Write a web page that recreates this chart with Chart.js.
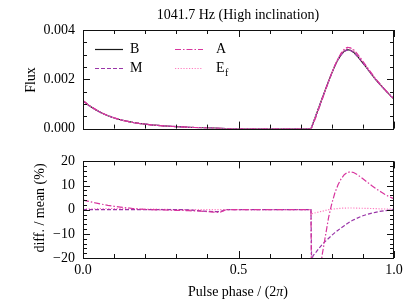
<!DOCTYPE html>
<html>
<head>
<meta charset="utf-8">
<script src="https://cdn.jsdelivr.net/npm/chart.js@4/dist/chart.umd.min.js"></script>
<style>
html,body{margin:0;padding:0;background:#fff;}
#wrap{position:relative;width:415px;height:305px;overflow:hidden;}
canvas{position:absolute;left:0;}
</style>
</head>
<body>
<div id="wrap">
<canvas id="c1" width="415" height="145" style="top:0"></canvas>
<canvas id="c2" width="415" height="160" style="top:145px"></canvas>
</div>
<script>
// ---------------- data ----------------
const phase = [
 0.00,0.02,0.04,0.06,0.08,0.10,0.12,0.14,0.16,0.18,
 0.20,0.22,0.24,0.26,0.28,0.30,0.32,0.34,0.36,0.38,
 0.40,0.42,0.44,0.46,0.48,0.50,0.52,0.54,0.56,0.58,
 0.60,0.62,0.64,0.66,0.68,0.70,0.72,0.733,0.735,
 0.74,0.75,0.76,0.77,0.78,0.79,0.80,0.81,0.82,0.83,
 0.84,0.85,0.86,0.87,0.88,0.89,0.90,0.91,0.92,0.93,
 0.94,0.95,0.96,0.97,0.98,0.99,1.00];

const fluxB = [
 0.00113,0.00093,0.00077,0.00063,0.00052,0.00043,0.00036,0.00030,0.00025,0.00021,
 0.00018,0.00015,0.00013,0.00011,0.000095,0.00008,0.000068,0.000055,0.000044,0.000034,
 0.000025,0.000016,0.000008,0.000002,0,0,0,0,0,0,
 0,0,0,0,0,0,0,0,0.00005,
 0.00023,0.00057,0.00092,0.00126,0.00160,0.00193,0.00225,0.00255,0.00280,0.00300,
 0.00314,0.00320,0.00318,0.00310,0.00297,0.00282,0.00266,0.00250,0.00233,0.00217,
 0.00201,0.00186,0.00172,0.00158,0.00145,0.00132,0.00120];

const fluxM = [
 0.00113,0.00093,0.00077,0.00063,0.00052,0.00043,0.00036,0.00030,0.00025,0.00021,
 0.00018,0.00015,0.00013,0.00011,0.000095,0.00008,0.000068,0.000055,0.000044,0.000034,
 0.000025,0.000016,0.000008,0.000002,0,0,0,0,0,0,
 0,0,0,0,0,0,0,0,0.00005,
 0.00023,0.00057,0.00092,0.00126,0.00160,0.00193,0.00225,0.00255,0.00280,0.00299,
 0.00313,0.00319,0.00317,0.00309,0.00296,0.00282,0.00266,0.00250,0.00233,0.00217,
 0.00201,0.00186,0.00172,0.00158,0.00145,0.00132,0.00120];

const fluxA = [
 0.00114,0.00094,0.00078,0.00064,0.00053,0.00044,0.00036,0.00030,0.00025,0.00021,
 0.00018,0.00015,0.00013,0.00011,0.000095,0.00008,0.000068,0.000055,0.000044,0.000034,
 0.000025,0.000016,0.000008,0.000002,0,0,0,0,0,0,
 0,0,0,0,0,0,0,0,0.00003,
 0.00018,0.00050,0.00086,0.00121,0.00157,0.00192,0.00226,0.00257,0.00284,0.00306,
 0.00322,0.00330,0.00328,0.00320,0.00306,0.00290,0.00273,0.00256,0.00238,0.00221,
 0.00204,0.00189,0.00174,0.00160,0.00146,0.00133,0.00121];

const fluxEf = [
 0.00113,0.00093,0.00077,0.00063,0.00052,0.00043,0.00036,0.00030,0.00025,0.00021,
 0.00018,0.00015,0.00013,0.00011,0.000095,0.00008,0.000068,0.000055,0.000044,0.000034,
 0.000025,0.000016,0.000008,0.000002,0,0,0,0,0,0,
 0,0,0,0,0,0,0,0,0.00005,
 0.00023,0.00057,0.00092,0.00126,0.00160,0.00193,0.00226,0.00257,0.00283,0.00304,
 0.00319,0.00326,0.00324,0.00316,0.00302,0.00287,0.00270,0.00253,0.00235,0.00218,
 0.00202,0.00187,0.00172,0.00158,0.00145,0.00132,0.00120];

const diffA = [
 4.0,3.4,2.8,2.3,1.8,1.4,1.1,0.8,0.5,0.3,
 0.1,0,-0.1,-0.1,-0.2,-0.3,-0.3,-0.4,-0.5,-0.6,
 -0.8,-1.0,-1.1,0,0,0,0,0,0,0,
 0,0,0,0,0,0,0,0,-40,
 -45,-38,-27,-18,-10.5,-3,2.5,7,10.3,12.8,
 14.5,15.4,15.7,15.4,14.7,13.8,12.8,11.8,10.8,9.8,
 8.9,8.0,7.2,6.4,5.7,5.1,4.5];

const diffM = [
 0,0,0,0,0,0,0,0,0,0,
 0,0,0,0,0,0,0,-0.1,-0.3,-0.5,
 -0.7,-0.8,-0.8,0,0,0,0,0,0,0,
 0,0,0,0,0,0,0,0,-21,
 -19,-17.5,-15.8,-14.3,-13,-11.8,-10.6,-9.5,-8.5,-7.5,
 -6.6,-5.7,-4.9,-4.2,-3.6,-3.0,-2.5,-2.1,-1.7,-1.4,
 -1.1,-0.8,-0.6,-0.4,-0.25,-0.1,0];

const diffEf = [
 0.3,0.4,0.4,0.5,0.5,0.5,0.5,0.4,0.4,0.3,
 0.3,0.2,0.2,0.1,0.1,0,0,0,0,0,
 0,0,0,0,0,0,0,0,0,0,
 0,0,0,0,0,0,0,0,-1.7,
 -1.5,-1.2,-0.9,-0.6,-0.3,0,0.2,0.35,0.5,0.6,
 0.65,0.7,0.7,0.7,0.65,0.6,0.6,0.55,0.5,0.5,
 0.45,0.4,0.35,0.3,0.3,0.25,0.2];

const xMajorTicks = [0, 0.5, 1];
const xMinorTicks = [0.1,0.2,0.3,0.4,0.6,0.7,0.8,0.9];
const fluxMajorTicks = [0, 0.002, 0.004];
const fluxMinorTicks = [0.0005,0.001,0.0015,0.0025,0.003,0.0035];
const diffMajorTicks = [-20,-10,0,10,20];
const diffMinorTicks = [-18,-16,-14,-12,-8,-6,-4,-2,2,4,6,8,12,14,16,18];

const seriesNames = ['B','M','A','Ef'];
const titleText = '1041.7 Hz (High inclination)';

// ---------------- styles ----------------
const FONT = '"Liberation Serif", "DejaVu Serif", serif';
const styles = {
  B:  {color:'#1a1a1a', dash:[], width:1.2},
  M:  {color:'#9a35a8', dash:[4,2], width:1.2},
  A:  {color:'#d8359e', dash:[6,2,1.5,2], width:1.2},
  Ef: {color:'#ff7cc0', dash:[1.2,1.6], width:1.2}
};
const pts = arr => arr.map((v,i)=>({x:phase[i], y:v}));
function ds(name, arr, order){
  const s = styles[name];
  return {label:name, data:pts(arr), borderColor:s.color, borderDash:s.dash,
    borderWidth:s.width, pointRadius:0, tension:0, fill:false, order:order};
}

function frameTicksPlugin(yMajor, yMinor){
  return {
    id:'frameTicks',
    afterDatasetsDraw(chart){
      const {ctx, chartArea:a, scales} = chart;
      const xs = scales.x, ys = scales.y;
      ctx.save();
      ctx.strokeStyle = '#111';
      ctx.lineWidth = 1;
      ctx.setLineDash([]);
      ctx.strokeRect(Math.round(a.left)+0.5, Math.round(a.top)+0.5,
                     Math.round(a.right-a.left)-1, Math.round(a.bottom-a.top));
      const tick = (vals, len, isX) => {
        vals.forEach(v=>{
          ctx.beginPath();
          if(isX){
            const p = Math.round(xs.getPixelForValue(v))+0.5;
            ctx.moveTo(p, a.bottom); ctx.lineTo(p, a.bottom-len);
            ctx.moveTo(p, a.top); ctx.lineTo(p, a.top+len);
          } else {
            const p = Math.round(ys.getPixelForValue(v))+0.5;
            ctx.moveTo(a.left, p); ctx.lineTo(a.left+len, p);
            ctx.moveTo(a.right, p); ctx.lineTo(a.right-len, p);
          }
          ctx.stroke();
        });
      };
      tick(xMajorTicks, 7, true);
      tick(xMinorTicks, 4, true);
      tick(yMajor, 7, false);
      tick(yMinor, 4, false);
      ctx.restore();
    }
  };
}

function textPlugin(drawFn){
  return {id:'texts', afterDraw(chart){ const ctx=chart.ctx; ctx.save(); drawFn(ctx, chart); ctx.restore(); }};
}

function rotText(ctx, text, x, y){
  ctx.save();
  ctx.translate(x, y);
  ctx.rotate(-Math.PI/2);
  ctx.textAlign = 'center';
  ctx.textBaseline = 'alphabetic';
  ctx.fillText(text, 0, 0);
  ctx.restore();
}

const tickFont = {family: FONT, size: 14};

// ---------------- chart 1 (flux) ----------------
new Chart(document.getElementById('c1'), {
  type:'line',
  data:{datasets:[
    ds('A', fluxA, 1), ds('Ef', fluxEf, 2), ds('M', fluxM, 3), ds('B', fluxB, 4)
  ]},
  options:{
    responsive:false, animation:false, events:[],
    layout:{padding:{left:0, right:21, top:30, bottom:0}},
    plugins:{legend:{display:false}, tooltip:{enabled:false}, title:{display:false}},
    scales:{
      x:{type:'linear', min:0, max:1, grid:{display:false, drawTicks:false}, border:{display:false},
         ticks:{display:false}, afterFit(s){ s.height = 15; }},
      y:{type:'linear', min:0, max:0.004, grid:{display:false, drawTicks:false}, border:{display:false},
         ticks:{stepSize:0.002, color:'#000', font:tickFont, padding:8,
                callback:v=>Number(v).toFixed(3)},
         afterFit(s){ s.width = 83; }}
    }
  },
  plugins:[frameTicksPlugin(fluxMajorTicks, fluxMinorTicks), textPlugin((ctx, chart)=>{
    ctx.fillStyle = '#000';
    ctx.font = '14px ' + FONT;
    ctx.textAlign = 'center';
    ctx.textBaseline = 'middle';
    ctx.fillText(titleText, 238, 15);
    rotText(ctx, 'Flux', 35, 80);
    // legend
    const items = [
      {n:'B', x:95, y:49, tx:130}, {n:'M', x:95, y:68, tx:130},
      {n:'A', x:175, y:49, tx:216}, {n:'Ef', x:175, y:68, tx:216}
    ];
    items.forEach(it=>{
      const s = styles[it.n];
      ctx.save();
      ctx.strokeStyle = s.color; ctx.lineWidth = s.width; ctx.setLineDash(s.dash);
      ctx.beginPath(); ctx.moveTo(it.x, it.y+0.5); ctx.lineTo(it.x+28, it.y+0.5); ctx.stroke();
      ctx.restore();
      ctx.fillStyle = '#000';
      ctx.textAlign = 'left';
      ctx.textBaseline = 'middle';
      ctx.font = '14px ' + FONT;
      if(it.n === 'Ef'){
        ctx.fillText('E', it.tx, it.y);
        const w = ctx.measureText('E').width;
        ctx.font = '10px ' + FONT;
        ctx.fillText('f', it.tx+w+0.5, it.y+5);
      } else {
        ctx.fillText(it.n, it.tx, it.y);
      }
    });
  })]
});

// ---------------- chart 2 (diff) ----------------
new Chart(document.getElementById('c2'), {
  type:'line',
  data:{datasets:[
    ds('A', diffA, 1), ds('M', diffM, 2), ds('Ef', diffEf, 3)
  ]},
  options:{
    responsive:false, animation:false, events:[],
    layout:{padding:{left:0, right:21, top:13, bottom:0}},
    plugins:{legend:{display:false}, tooltip:{enabled:false}, title:{display:false}},
    scales:{
      x:{type:'linear', min:0, max:1, grid:{display:false, drawTicks:false}, border:{display:false},
         ticks:{stepSize:0.5, color:'#000', font:tickFont, padding:4, maxRotation:0,
                callback:v=>Number(v).toFixed(1)},
         afterFit(s){ s.height = 47; }},
      y:{type:'linear', min:-20, max:20, grid:{display:false, drawTicks:false}, border:{display:false},
         ticks:{stepSize:10, color:'#000', font:tickFont, padding:8,
                callback:v=> v<0 ? '\u2212'+Math.abs(v) : String(v)},
         afterFit(s){ s.width = 83; }}
    }
  },
  plugins:[frameTicksPlugin(diffMajorTicks, diffMinorTicks), textPlugin((ctx, chart)=>{
    ctx.fillStyle = '#000';
    ctx.font = '14px ' + FONT;
    rotText(ctx, 'diff. / mean (%)', 44, 63);
    // x axis title with italic pi
    const p1 = 'Pulse phase / (2', p2 = '\u03c0', p3 = ')';
    ctx.font = '14px ' + FONT; const w1 = ctx.measureText(p1).width, w3 = ctx.measureText(p3).width;
    ctx.font = 'italic 14px ' + FONT; const w2 = ctx.measureText(p2).width;
    let x = 238 - (w1+w2+w3)/2, y = 147;
    ctx.textAlign = 'left'; ctx.textBaseline = 'middle';
    ctx.font = '14px ' + FONT; ctx.fillText(p1, x, y); x += w1;
    ctx.font = 'italic 14px ' + FONT; ctx.fillText(p2, x, y); x += w2;
    ctx.font = '14px ' + FONT; ctx.fillText(p3, x, y);
  })]
});
</script>
</body>
</html>
